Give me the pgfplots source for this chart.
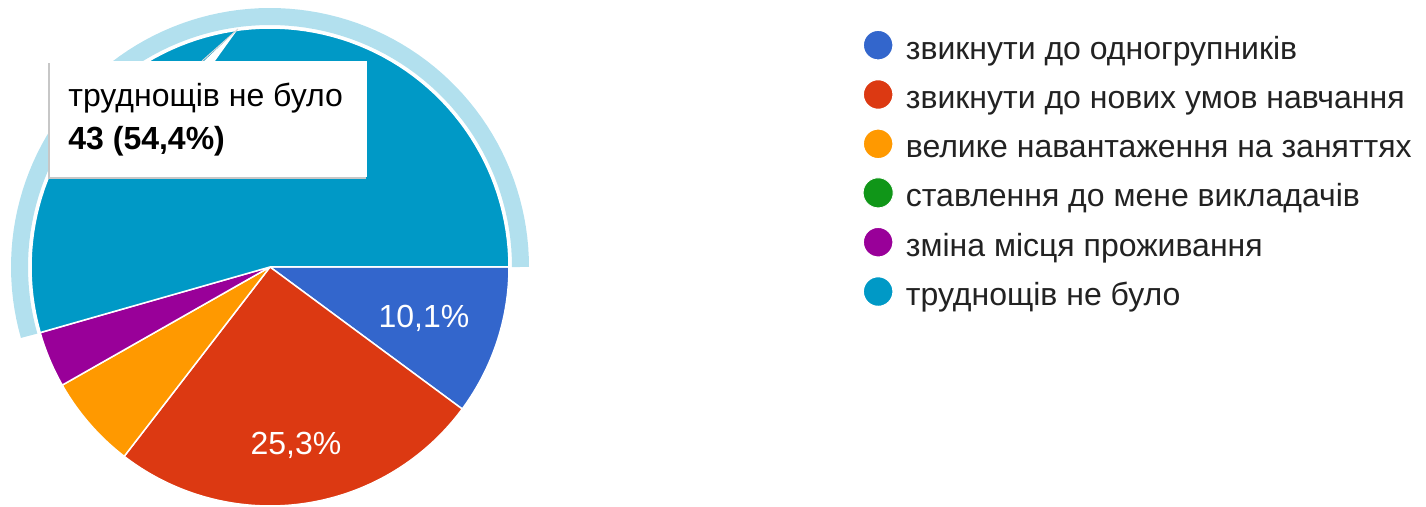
\documentclass[border=0pt]{standalone}
\usepackage{fontspec}
\setmainfont{Liberation Sans}
\usepackage{pgfplots}
\pgfplotsset{compat=1.18}
\definecolor{cA}{HTML}{3366CC}
\definecolor{cB}{HTML}{DC3912}
\definecolor{cC}{HTML}{FF9900}
\definecolor{cD}{HTML}{109618}
\definecolor{cE}{HTML}{990099}
\definecolor{cF}{HTML}{0099C6}
\definecolor{ring}{HTML}{B2E0EE}
\definecolor{txt}{HTML}{222222}
\newcommand\f{\fontsize{16}{19}\selectfont}
\begin{document}
\begin{tikzpicture}
% counts per category
\def\nA{8}\def\nB{20}\def\nC{5}\def\nD{0}\def\nE{3}\def\nF{43}
\pgfmathsetmacro\tot{\nA+\nB+\nC+\nD+\nE+\nF}
\pgfmathsetmacro\aA{-360*\nA/\tot}
\pgfmathsetmacro\aB{\aA-360*\nB/\tot}
\pgfmathsetmacro\aC{\aB-360*\nC/\tot}
\pgfmathsetmacro\aD{\aC-360*\nD/\tot}
\pgfmathsetmacro\aE{\aD-360*\nE/\tot}
\pgfmathsetmacro\aF{360+\aE}
\begin{axis}[
  width=713pt, height=252.5pt, scale only axis,
  xmin=0, xmax=1426, ymin=0, ymax=505,
  hide axis, clip=false,
  samples=90,
  legend cell align=left,
  legend image code/.code={\fill[#1] (7.5pt,3pt) circle (7.5pt);},
  legend style={at={(axis cs:862,476)}, anchor=north west, draw=none, fill=none,
    inner sep=0pt, font=\f, text=txt, row sep=6.8pt, column sep=6pt,
    nodes={inner sep=0pt, text height=11pt, text depth=3pt}},
]
\path (rel axis cs:0,0) rectangle (rel axis cs:1,1);
% hover ring around the highlighted slice
\addplot[draw=ring, line width=8.5pt, domain=0:\aF, forget plot]
  ({270+250.5*cos(x)},{238+250.5*sin(x)});
\addplot[fill=cA, draw=white, line width=0.75pt, domain=\aA:0]
  ({270+239*cos(x)},{238+239*sin(x)}) -- (axis cs:270,238) -- cycle;
\addlegendentry{звикнути до одногрупників}
\addplot[fill=cB, draw=white, line width=0.75pt, domain=\aB:\aA]
  ({270+239*cos(x)},{238+239*sin(x)}) -- (axis cs:270,238) -- cycle;
\addlegendentry{звикнути до нових умов навчання}
\addplot[fill=cC, draw=white, line width=0.75pt, domain=\aC:\aB]
  ({270+239*cos(x)},{238+239*sin(x)}) -- (axis cs:270,238) -- cycle;
\addlegendentry{велике навантаження на заняттях}
\addlegendimage{fill=cD, draw=white}
\addlegendentry{ставлення до мене викладачів}
\addplot[fill=cE, draw=white, line width=0.75pt, domain=\aE:\aD]
  ({270+239*cos(x)},{238+239*sin(x)}) -- (axis cs:270,238) -- cycle;
\addlegendentry{зміна місця проживання}
\addplot[fill=cF, draw=white, line width=0.75pt, domain=0:\aF]
  ({270+239*cos(x)},{238+239*sin(x)}) -- (axis cs:270,238) -- cycle;
\addlegendentry{труднощів не було}
% slice labels
\node[white, font=\f] at (axis cs:424,187) {10,1\%};
\node[white, font=\f] at (axis cs:296,60) {25,3\%};
% tooltip
\fill[black!22] (axis cs:48,442) rectangle (axis cs:366,326);
\fill[white] (axis cs:50,444) rectangle (axis cs:367,328);
\fill[white] (axis cs:204,444) -- (axis cs:238,476) -- (axis cs:215,444) -- cycle;
\draw[black!15, line width=0.5pt] (axis cs:202,444) -- (axis cs:238,476);
\node[anchor=base west, inner sep=0pt, font=\f, text=black] at (axis cs:68,398) {труднощів не було};
\node[anchor=base west, inner sep=0pt, font=\f\bfseries, text=black] at (axis cs:68,355) {43 (54,4\%)};
\end{axis}
\end{tikzpicture}
\end{document}
